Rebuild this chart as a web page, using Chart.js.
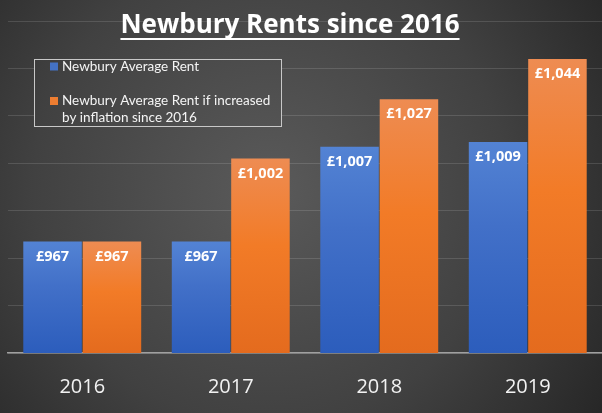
<!DOCTYPE html>
<html>
<head>
<meta charset="utf-8">
<script src="https://cdn.jsdelivr.net/npm/chart.js@4"></script>
<style>
  html, body { margin: 0; padding: 0; background: #333; }
  #wrap { width: 602px; height: 413px; position: relative; }
</style>
</head>
<body>
<div id="wrap"><canvas id="rentChart"></canvas></div>
<script>
// chart data
const years = ['2016', '2017', '2018', '2019'];
const averageRent = [967, 967, 1007, 1009];
const inflationRent = [967, 1002, 1027, 1044];
const seriesNames = ['Newbury Average Rent', 'Newbury Average Rent if increased by inflation since 2016'];
const chartTitle = 'Newbury Rents since 2016';
const yMin = 920;
const yMax = 1060;
const yStep = 20;

function bgGradient(ctx) {
    const g = ctx.createRadialGradient(270, 190, 0, 270, 190, 430);
    g.addColorStop(0, '#5a5a5a');
    g.addColorStop(0.55, '#414141');
    g.addColorStop(1, '#222222');
    return g;
}

// gradient per bar, lighter at the top
function barFill(stops) {
    return function(context) {
        const chart = context.chart;
        const area = chart.chartArea;
        if (!area || context.parsed == null) return stops[stops.length - 1][1];
        const y = chart.scales.y.getPixelForValue(context.parsed.y);
        const g = chart.ctx.createLinearGradient(0, y, 0, area.bottom);
        stops.forEach(s => g.addColorStop(s[0], s[1]));
        return g;
    };
}

const backgroundPlugin = {
    id: 'bg',
    beforeDraw(chart) {
        const ctx = chart.ctx;
        ctx.save();
        ctx.fillStyle = bgGradient(ctx);
        ctx.fillRect(0, 0, chart.width, chart.height);
        ctx.restore();
    }
};

const valueLabels = {
    id: 'valueLabels',
    afterDatasetsDraw(chart) {
        const ctx = chart.ctx;
        ctx.save();
        ctx.font = 'bold 14.5px "Open Sans"';
        ctx.fillStyle = '#ffffff';
        ctx.textAlign = 'center';
        ctx.textBaseline = 'middle';
        chart.data.datasets.forEach((ds, i) => {
            chart.getDatasetMeta(i).data.forEach((bar, j) => {
                const txt = '£' + ds.data[j].toLocaleString('en-GB');
                ctx.fillText(txt, bar.x, bar.y + 15);
            });
        });
        ctx.restore();
    }
};

const titleAndLegend = {
    id: 'titleAndLegend',
    afterDraw(chart) {
        const ctx = chart.ctx;
        ctx.save();

        // title, underlined
        ctx.font = 'bold 26px "Open Sans"';
        ctx.fillStyle = '#ffffff';
        ctx.textAlign = 'center';
        ctx.textBaseline = 'alphabetic';
        ctx.fillText(chartTitle, 290, 33);
        const w = ctx.measureText(chartTitle).width;
        ctx.fillRect(290 - w / 2, 38, w, 2);

        // legend box
        ctx.fillStyle = bgGradient(ctx);
        ctx.fillRect(34, 59, 247, 67);
        ctx.strokeStyle = '#c8c8c8';
        ctx.lineWidth = 1;
        ctx.strokeRect(34.5, 59.5, 247, 67);

        const colours = ['#4472c4', '#ed7d31'];
        const rows = [66.5, 101];
        ctx.font = '13.5px Lato';
        ctx.textAlign = 'left';
        ctx.textBaseline = 'middle';
        seriesNames.forEach((name, i) => {
            ctx.fillStyle = colours[i];
            ctx.fillRect(50, rows[i] - 4, 8, 8);
            ctx.fillStyle = '#f4f4f4';
            // wrap to box width
            const words = name.split(' ');
            let line = '';
            let y = rows[i];
            words.forEach(word => {
                const test = line ? line + ' ' + word : word;
                if (ctx.measureText(test).width > 212 && line) {
                    ctx.fillText(line, 62, y);
                    line = word;
                    y += 17;
                } else {
                    line = test;
                }
            });
            ctx.fillText(line, 62, y);
        });
        ctx.restore();
    }
};

new Chart(document.getElementById('rentChart'), {
    type: 'bar',
    data: {
        labels: years,
        datasets: [{
            label: seriesNames[0],
            data: averageRent,
            backgroundColor: barFill([[0, '#5383d4'], [0.4, '#4270c8'], [1, '#2c5dbc']]),
            categoryPercentage: 0.8,
            barPercentage: 0.985
        }, {
            label: seriesNames[1],
            data: inflationRent,
            backgroundColor: barFill([[0, '#ee8c52'], [0.45, '#f27b27'], [1, '#e46b1e']]),
            categoryPercentage: 0.8,
            barPercentage: 0.985
        }]
    },
    options: {
        responsive: true,
        maintainAspectRatio: false,
        animation: false,
        layout: { padding: { left: 8, right: 0, top: 21, bottom: 0 } },
        plugins: {
            legend: { display: false },
            title: { display: false },
            tooltip: { enabled: false }
        },
        scales: {
            x: {
                grid: { display: false },
                border: { color: '#a0a0a0', width: 1.5 },
                ticks: {
                    color: '#f2f2f2',
                    font: { family: 'Open Sans', size: 20 },
                    padding: 14
                },
                afterFit(scale) { scale.height = 60; }
            },
            y: {
                min: yMin,
                max: yMax,
                ticks: { display: false, stepSize: yStep },
                border: { display: false },
                grid: {
                    color: 'rgba(255,255,255,0.13)',
                    drawTicks: false
                },
                afterFit(scale) { scale.width = 0; }
            }
        }
    },
    plugins: [backgroundPlugin, valueLabels, titleAndLegend]
});
</script>
</body>
</html>
